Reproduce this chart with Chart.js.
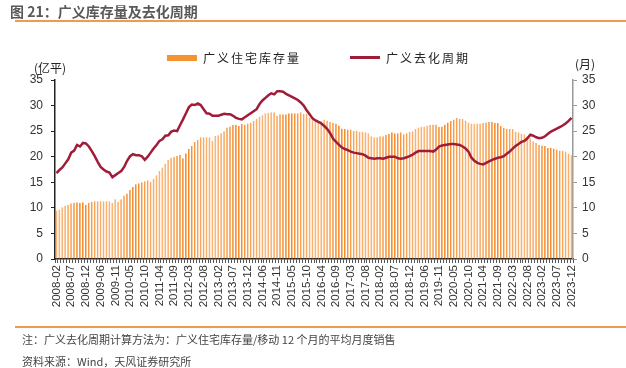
<!DOCTYPE html>
<html>
<head>
<meta charset="utf-8">
<script src="https://cdn.jsdelivr.net/npm/chart.js@4/dist/chart.umd.min.js"></script>
<style>
  body { margin: 0; background: #fff; font-family: "Noto Sans CJK SC", sans-serif; }
  #page { position: relative; width: 626px; height: 368px; overflow: hidden; }
  #page canvas { position: absolute; left: 0; top: 0; }
  .abs { position: absolute; white-space: nowrap; }
  .title { left: 10px; top: 1px; font-size: 14px; font-weight: bold; color: #595959; }
  .rule { left: 15px; width: 611px; height: 2px; background: #F09A4E; }
  .note { left: 22px; font-size: 11px; color: #444; }
  .leg { font-size: 12px; color: #222; letter-spacing: 2px; }
  .unit { font-size: 12px; color: #222; }
</style>
</head>
<body>
<div id="page">
  <canvas id="chart" width="626" height="368"></canvas>
  <div class="abs title">图 21：广义库存量及去化周期</div>
  <div class="abs rule" style="top:20px"></div>
  <div class="abs" style="left:167px;top:55px;width:30px;height:6px;background:#F59331"></div>
  <div class="abs leg" style="left:203px;top:49px">广义住宅库存量</div>
  <div class="abs" style="left:350px;top:56px;width:30px;height:3px;background:#A01D3A"></div>
  <div class="abs leg" style="left:386px;top:49px">广义去化周期</div>
  <div class="abs unit" style="left:34px;top:59px">(亿平)</div>
  <div class="abs unit" style="left:575px;top:55px">(月)</div>
  <div class="abs rule" style="top:326px"></div>
  <div class="abs note" style="top:331px">注：广义去化周期计算方法为：广义住宅库存量/移动 12 个月的平均月度销售</div>
  <div class="abs note" style="top:353px">资料来源：Wind，天风证券研究所</div>
</div>
<script>
// months run Feb..Dec each year (Jan is merged into Feb in the source data)
const years = [2008, 2009, 2010, 2011, 2012, 2013, 2014, 2015, 2016, 2017, 2018, 2019, 2020, 2021, 2022, 2023];
const months = ['02', '03', '04', '05', '06', '07', '08', '09', '10', '11', '12'];
const labels = [];
years.forEach((y) => months.forEach((m) => labels.push(y + '-' + m)));

// 广义住宅库存量 (亿平)
const inventory = [
  9.5, 9.7, 10.1, 10.4, 10.6, 10.9, 11.0, 11.1, 11.0, 11.1, 10.6,
  11.0, 11.2, 11.3, 11.3, 11.3, 11.3, 11.3, 11.3, 11.0, 11.7, 11.2,
  11.7, 12.4, 12.8, 13.5, 14.1, 14.6, 14.8, 15.0, 15.2, 15.4, 15.1,
  15.7, 16.4, 17.2, 17.9, 18.6, 19.4, 19.8, 20.0, 20.2, 20.4, 19.7,
  20.7, 21.5, 22.1, 22.9, 23.3, 23.8, 23.8, 23.8, 23.8, 23.1, 24.1,
  24.2, 24.6, 25.0, 25.7, 25.9, 26.2, 26.2, 26.0, 26.4, 26.3, 26.5,
  26.7, 27.0, 27.4, 27.8, 28.1, 28.5, 28.6, 28.7, 28.7, 28.0, 28.3,
  28.3, 28.3, 28.5, 28.5, 28.5, 28.5, 28.7, 28.4, 28.4, 27.6, 27.3,
  27.0, 27.0, 27.0, 27.3, 27.1, 26.8, 26.6, 26.5, 26.1, 25.5, 25.4,
  25.3, 25.3, 25.1, 25.1, 24.9, 24.9, 24.8, 24.6, 24.0, 23.8, 23.8,
  24.0, 24.0, 24.3, 24.5, 24.8, 24.6, 24.6, 24.8, 24.4, 24.6, 24.9,
  25.0, 25.4, 25.7, 25.8, 25.9, 26.1, 26.2, 26.3, 26.3, 25.8, 25.9,
  26.3, 26.7, 27.0, 27.3, 27.6, 27.4, 27.4, 27.1, 26.7, 26.5, 26.4,
  26.5, 26.5, 26.6, 26.7, 26.8, 26.8, 26.6, 26.6, 26.0, 25.6, 25.4,
  25.4, 25.4, 24.9, 24.8, 24.5, 24.4, 24.0, 23.6, 23.0, 22.7, 22.3,
  22.2, 22.1, 21.7, 21.7, 21.6, 21.4, 21.2, 21.1, 21.0, 20.6, 20.3
];

// 广义去化周期 (月)
const cycle = [
  16.8, 17.4, 17.9, 18.7, 19.5, 20.8, 21.2, 22.3, 22.0, 22.7, 22.6,
  22.0, 21.1, 20.1, 19.0, 18.0, 17.5, 17.1, 16.9, 16.0, 16.4, 16.8,
  17.2, 18.0, 19.2, 20.1, 20.5, 20.3, 20.3, 20.1, 19.4, 20.0, 20.8,
  21.6, 22.3, 23.1, 23.4, 24.1, 24.2, 24.9, 25.1, 25.0, 26.2, 27.3,
  28.5, 29.7, 30.2, 30.1, 30.4, 30.1, 29.3, 28.5, 28.4, 28.0, 28.0,
  28.0, 28.2, 28.4, 28.3, 28.3, 28.0, 27.6, 27.4, 27.3, 27.7, 28.1,
  28.5, 28.9, 29.3, 30.3, 31.0, 31.5, 32.0, 32.4, 32.2, 32.8, 32.8,
  32.7, 32.3, 32.0, 31.7, 31.4, 31.1, 30.6, 30.0, 29.1, 28.3, 27.5,
  27.1, 26.8, 26.5, 26.0, 25.4, 24.6, 23.5, 22.9, 22.3, 21.8, 21.5,
  21.3, 21.0, 20.8, 20.7, 20.6, 20.5, 20.2, 19.8, 19.7, 19.6, 19.7,
  19.7, 19.6, 19.8, 20.0, 20.0, 20.0, 19.7, 19.6, 19.7, 19.9, 20.1,
  20.4, 20.8, 21.1, 21.1, 21.1, 21.1, 21.1, 21.0, 21.4, 22.0, 22.2,
  22.3, 22.4, 22.5, 22.5, 22.4, 22.3, 22.0, 21.6, 21.0, 19.8, 19.2,
  18.8, 18.6, 18.5, 18.8, 19.1, 19.4, 19.6, 19.8, 19.9, 20.1, 20.6,
  21.0, 21.6, 22.1, 22.5, 22.9, 23.1, 23.6, 24.3, 24.1, 23.8, 23.6,
  23.7, 24.0, 24.5, 24.9, 25.2, 25.5, 25.8, 26.1, 26.5, 27.0, 27.6
];

const tickFont = { family: '"Liberation Sans", Arial, sans-serif', size: 12 };

new Chart(document.getElementById('chart'), {
  type: 'bar',
  data: {
    labels,
    datasets: [
      {
        type: 'line', data: cycle, yAxisID: 'y2', order: 0,
        borderColor: '#A01D3A', borderWidth: 2.5, pointRadius: 0, tension: 0,
      },
      {
        data: inventory, yAxisID: 'y', order: 1,
        backgroundColor: '#F9A961', borderColor: '#F07E12',
        borderWidth: { left: 1, right: 0, top: 0, bottom: 0 }, borderSkipped: false,
        barPercentage: 0.62, categoryPercentage: 1,
      },
    ],
  },
  options: {
    responsive: false,
    animation: false,
    layout: { padding: { top: 80, left: 0, right: 0, bottom: 0 } },
    plugins: { legend: { display: false }, tooltip: { enabled: false } },
    scales: {
      x: {
        afterFit: (s) => { s.height = 109; },
        grid: { drawOnChartArea: false, tickLength: 4, color: '#555' },
        border: { color: '#222', width: 1.5 },
        ticks: {
          autoSkip: false, maxRotation: 90, minRotation: 90, padding: 2,
          color: '#333', font: { family: tickFont.family, size: 11.5 },
          callback: (v, i) => (i % 5 === 0 ? labels[i] : ''),
        },
      },
      y: {
        position: 'left', min: 0, max: 35,
        afterFit: (s) => { s.width = 55; },
        grid: { drawOnChartArea: false, tickLength: 4, color: '#222' },
        border: { color: '#222', width: 1.5 },
        ticks: { stepSize: 5, padding: 8, color: '#333', font: tickFont },
      },
      y2: {
        position: 'right', min: 0, max: 35,
        afterFit: (s) => { s.width = 53; },
        grid: { drawOnChartArea: false, tickLength: 4, color: '#999' },
        border: { color: '#999', width: 1.5 },
        ticks: { stepSize: 5, padding: 5, color: '#333', font: tickFont },
      },
    },
  },
});
</script>
</body>
</html>
